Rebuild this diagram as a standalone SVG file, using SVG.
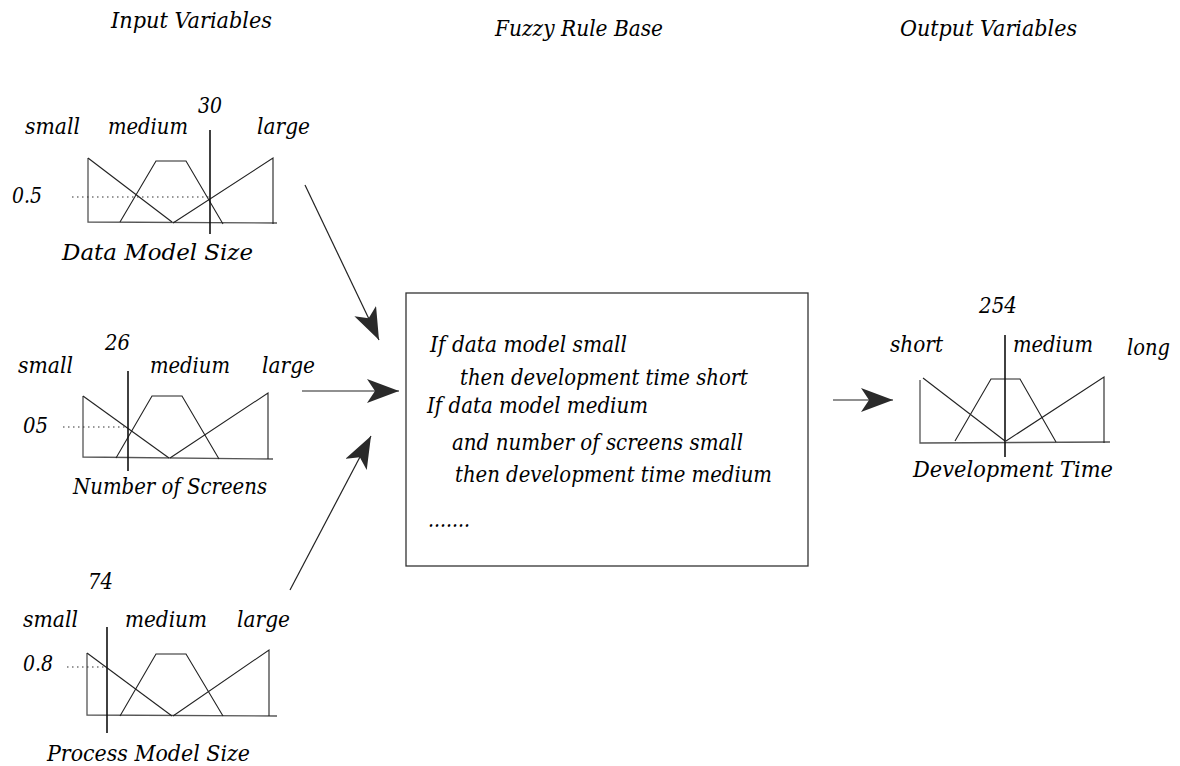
<svg xmlns="http://www.w3.org/2000/svg" width="1180" height="766" viewBox="0 0 1180 766">
<style>
.t { font-family: "DejaVu Serif", "Liberation Serif", serif; font-style: italic; font-size: 22px; fill: #000; }
.h { font-size: 22px; }
.ln { stroke: #222; stroke-width: 1.1; fill: none; }
.base { stroke: #555; stroke-width: 1.3; fill: none; }
.mk { stroke: #111; stroke-width: 1.6; fill: none; }
.dot { stroke: #333; stroke-width: 1.2; stroke-dasharray: 1.5 3.5; fill: none; }
.conn { stroke: #222; stroke-width: 1.2; fill: none; marker-end: url(#ah); }
.box { stroke: #333; stroke-width: 1.3; fill: none; }
</style>
<defs>
<marker id="ah" markerUnits="userSpaceOnUse" viewBox="0 0 32 24" markerWidth="32" markerHeight="24" refX="32" refY="12" orient="auto">
<path d="M0,0 L32,12 L0,24 L8,12 Z" fill="#2a2a2a"/>
</marker>
</defs>
<rect width="1180" height="766" fill="#fff"/>

<g id="titles">
<text class="t h" x="111" y="28" textLength="161" lengthAdjust="spacingAndGlyphs">Input Variables</text>
<text class="t h" x="495" y="36" textLength="168" lengthAdjust="spacingAndGlyphs">Fuzzy Rule Base</text>
<text class="t h" x="900" y="36" textLength="177" lengthAdjust="spacingAndGlyphs">Output Variables</text>
</g>

<g id="data-model-size">
<polyline class="base" points="88,158 88,222 277,223"/>
<line class="ln" x1="88" y1="158" x2="172" y2="222"/>
<polyline class="ln" points="120,222 156,161 186,161 223,224"/>
<polyline class="ln" points="173,223 273,158 273,224"/>
<line class="dot" x1="72" y1="197" x2="210" y2="197"/>
<line class="mk" x1="210" y1="130" x2="210" y2="234"/>
<text class="t" x="25" y="134" textLength="55" lengthAdjust="spacingAndGlyphs">small</text>
<text class="t" x="108" y="134" textLength="80" lengthAdjust="spacingAndGlyphs">medium</text>
<text class="t" x="198" y="113" textLength="24" lengthAdjust="spacingAndGlyphs">30</text>
<text class="t" x="257" y="134" textLength="53" lengthAdjust="spacingAndGlyphs">large</text>
<text class="t" x="12" y="203" textLength="30" lengthAdjust="spacingAndGlyphs">0.5</text>
<text class="t" x="62" y="260" textLength="191" lengthAdjust="spacingAndGlyphs">Data Model Size</text>
</g>

<g id="number-of-screens">
<polyline class="base" points="83,396 83,457 273,459"/>
<line class="ln" x1="83" y1="396" x2="169" y2="458"/>
<polyline class="ln" points="116,458 152,396 182,396 219,459"/>
<polyline class="ln" points="170,458 268,393 268,459"/>
<line class="dot" x1="63" y1="427" x2="128" y2="427"/>
<line class="mk" x1="128" y1="371" x2="128" y2="471"/>
<text class="t" x="18" y="373" textLength="55" lengthAdjust="spacingAndGlyphs">small</text>
<text class="t" x="150" y="373" textLength="80" lengthAdjust="spacingAndGlyphs">medium</text>
<text class="t" x="105" y="350" textLength="25" lengthAdjust="spacingAndGlyphs">26</text>
<text class="t" x="262" y="373" textLength="53" lengthAdjust="spacingAndGlyphs">large</text>
<text class="t" x="23" y="433" textLength="25" lengthAdjust="spacingAndGlyphs">05</text>
<text class="t" x="73" y="494" textLength="194" lengthAdjust="spacingAndGlyphs">Number of Screens</text>
</g>

<g id="process-model-size">
<polyline class="base" points="87,653 87,715 277,716"/>
<line class="ln" x1="87" y1="653" x2="172" y2="716"/>
<polyline class="ln" points="120,716 156,654 186,654 223,716"/>
<polyline class="ln" points="173,716 269,650 269,716"/>
<line class="dot" x1="67" y1="667" x2="107" y2="667"/>
<line class="mk" x1="107" y1="627" x2="107" y2="733"/>
<text class="t" x="23" y="627" textLength="55" lengthAdjust="spacingAndGlyphs">small</text>
<text class="t" x="125" y="627" textLength="82" lengthAdjust="spacingAndGlyphs">medium</text>
<text class="t" x="88" y="589" textLength="25" lengthAdjust="spacingAndGlyphs">74</text>
<text class="t" x="237" y="627" textLength="53" lengthAdjust="spacingAndGlyphs">large</text>
<text class="t" x="23" y="671" textLength="30" lengthAdjust="spacingAndGlyphs">0.8</text>
<text class="t" x="47" y="761" textLength="203" lengthAdjust="spacingAndGlyphs">Process Model Size</text>
</g>

<g id="fuzzy-rule-base">
<rect class="box" x="406" y="293" width="402" height="273"/>
<text class="t" x="430" y="352" textLength="197" lengthAdjust="spacingAndGlyphs">If data model small</text>
<text class="t" x="460" y="385" textLength="288" lengthAdjust="spacingAndGlyphs">then development time short</text>
<text class="t" x="427" y="413" textLength="221" lengthAdjust="spacingAndGlyphs">If data model medium</text>
<text class="t" x="452" y="450" textLength="291" lengthAdjust="spacingAndGlyphs">and number of screens small</text>
<text class="t" x="455" y="482" textLength="317" lengthAdjust="spacingAndGlyphs">then development time medium</text>
<text class="t" x="428" y="527" textLength="42" lengthAdjust="spacingAndGlyphs">.......</text>
</g>

<g id="development-time">
<polyline class="base" points="920,380 920,443 1110,442"/>
<line class="ln" x1="923" y1="378" x2="1005" y2="441"/>
<polyline class="ln" points="955,441 991,379 1020,379 1056,442"/>
<polyline class="ln" points="1006,441 1104,377 1104,443"/>
<line class="mk" x1="1005" y1="335" x2="1005" y2="457"/>
<text class="t" x="979" y="313" textLength="38" lengthAdjust="spacingAndGlyphs">254</text>
<text class="t" x="890" y="352" textLength="53" lengthAdjust="spacingAndGlyphs">short</text>
<text class="t" x="1013" y="352" textLength="80" lengthAdjust="spacingAndGlyphs">medium</text>
<text class="t" x="1127" y="355" textLength="43" lengthAdjust="spacingAndGlyphs">long</text>
<text class="t" x="913" y="477" textLength="200" lengthAdjust="spacingAndGlyphs">Development Time</text>
</g>

<g id="connectors">
<line class="conn" x1="305" y1="185" x2="379" y2="340"/>
<line class="conn" x1="302" y1="391" x2="399" y2="391"/>
<line class="conn" x1="290" y1="590" x2="371" y2="436"/>
<line class="conn" x1="833" y1="400" x2="893" y2="400"/>
</g>
</svg>
